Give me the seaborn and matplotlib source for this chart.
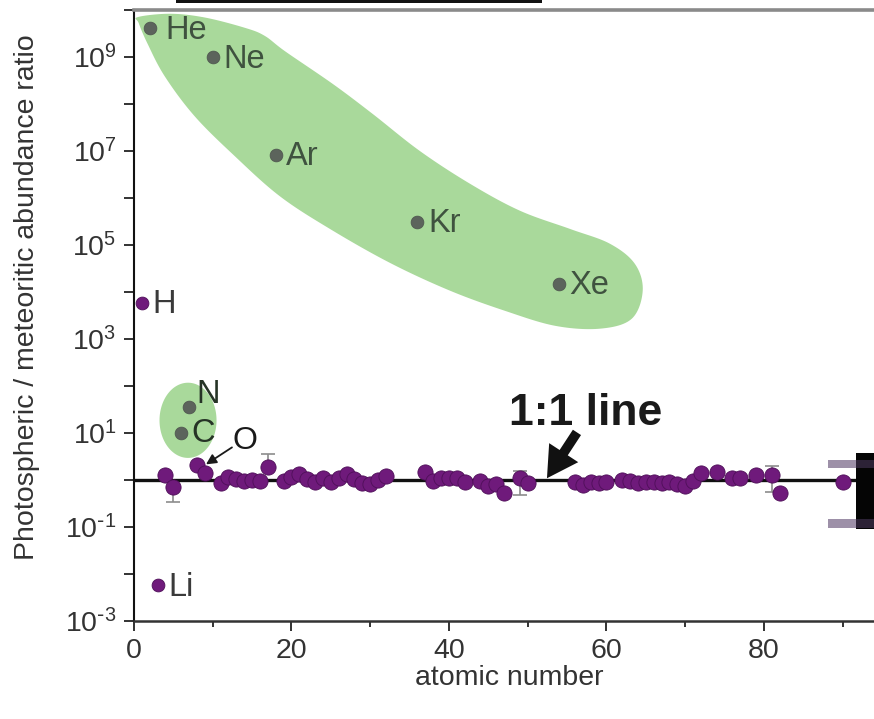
import numpy as np
import pandas as pd
import matplotlib
matplotlib.use("Agg")
import matplotlib.pyplot as plt
import seaborn as sns
from matplotlib.ticker import FixedLocator, FuncFormatter, MultipleLocator
from matplotlib.patches import Rectangle

# Elements that follow the 1:1 line: atomic number and photospheric/meteoritic ratio
line_z = [4, 5, 8, 9, 11, 12, 13, 14, 15, 16, 17, 19, 20, 21, 22, 23, 24, 25, 26, 27,
          28, 29, 30, 31, 32, 37, 38, 39, 40, 41, 42, 44, 45, 46, 47, 49, 50,
          56, 57, 58, 59, 60, 62, 63, 64, 65, 66, 67, 68, 69, 70, 71, 72,
          74, 76, 77, 79, 81, 82, 90]
line_ratio = [1.26, 0.71, 2.09, 1.41, 0.87, 1.15, 1.07, 0.95, 1.00, 0.93, 1.90, 0.95, 1.17, 1.32, 1.07, 0.89, 1.10, 0.91, 1.10, 1.32,
              1.07, 0.85, 0.83, 0.98, 1.23, 1.48, 0.95, 1.10, 1.12, 1.12, 0.89, 0.95, 0.76, 0.83, 0.52, 1.10, 0.87,
              0.91, 0.79, 0.91, 0.85, 0.91, 1.00, 0.93, 0.87, 0.89, 0.89, 0.87, 0.89, 0.83, 0.76, 0.93, 1.38,
              1.48, 1.10, 1.10, 1.26, 1.26, 0.52, 0.91]

# Uncertainties (lower / upper) for a few elements
err_z = [5, 17, 49, 81]
err_low = [0.37, 0.0, 0.63, 0.71]
err_high = [0.0, 1.65, 0.48, 0.74]

# Strongly depleted / enriched light elements
light_z = [1, 3]
light_ratio = [5.9e3, 5.7e-3]
light_label = ["H", "Li"]

# Noble gases
noble_z = [2, 10, 18, 36, 54]
noble_ratio = [4.1e9, 1.0e9, 8.3e6, 3.1e5, 1.5e4]
noble_label = ["He", "Ne", "Ar", "Kr", "Xe"]

# Volatile C and N
cn_z = [6, 7]
cn_ratio = [10.2, 35.0]
cn_label = ["C", "N"]

# Outline of the shaded noble-gas region: (atomic number, log10 ratio)
blob_z = [0.5, 4.6, 9.0, 14.1, 16.6, 19.2, 25.3, 30.3, 36.3, 42.7, 49.0, 55.4, 60.4, 63.6,
          64.6, 63.2, 59.2, 53.5, 47.1, 40.1, 32.5, 24.9, 18.5, 12.8, 7.7, 3.9, 1.7, 0.6]
blob_log = [9.85, 9.92, 9.84, 9.62, 9.45, 9.12, 8.42, 7.79, 7.0, 6.30, 5.73, 5.34, 5.03, 4.60,
            4.03, 3.43, 3.22, 3.28, 3.60, 4.03, 4.62, 5.34, 6.04, 6.89, 7.74, 8.59, 9.29, 9.72]

PURPLE = "#6f1a7b"
PURPLE_EDGE = "#4e0f58"
GRAY_DOT = "#5c645c"
GREEN = "#a9d99b"

sns.set_theme(style="ticks")
plt.rcParams["font.family"] = ["Liberation Sans", "DejaVu Sans"]
plt.rcParams["mathtext.default"] = "regular"

W, H = 874, 719
fig = plt.figure(figsize=(W / 100, H / 100), dpi=100)
fig.patch.set_facecolor("white")


def px_box(x0, y0, x1, y1):
    """Figure-fraction rectangle from pixel corners (origin top-left)."""
    return (x0 / W, 1 - y1 / H), (x1 - x0) / W, (y1 - y0) / H


ax_left, ax_right, ax_top, ax_bottom = 134, 884, 10, 621
ax = fig.add_axes([ax_left / W, 1 - ax_bottom / H, (ax_right - ax_left) / W, (ax_bottom - ax_top) / H])
ax.set_facecolor("white")
ax.set_yscale("log")
ax.set_xlim(0, 95.24)
ax.set_ylim(1e-3, 1e10)


def closed_spline(xs, ys, n=16):
    pts = np.column_stack([xs, ys])
    m = len(pts)
    out = []
    t = np.linspace(0, 1, n, endpoint=False)[:, None]
    for i in range(m):
        p0, p1, p2, p3 = pts[(i - 1) % m], pts[i], pts[(i + 1) % m], pts[(i + 2) % m]
        seg = 0.5 * (2 * p1 + (-p0 + p2) * t + (2 * p0 - 5 * p1 + 4 * p2 - p3) * t ** 2
                     + (-p0 + 3 * p1 - 3 * p2 + p3) * t ** 3)
        out.append(seg)
    out = np.vstack(out)
    return out[:, 0], out[:, 1]


# shaded regions
bx, by = closed_spline(blob_z, blob_log)
ax.fill(bx, 10.0 ** by, color=GREEN, lw=0, zorder=1)
th = np.linspace(0, 2 * np.pi, 200)
ax.fill(6.86 + 3.62 * np.cos(th), 10.0 ** (1.27 + 0.80 * np.sin(th)), color=GREEN, lw=0, zorder=1)

# 1:1 reference line
ax.axhline(1.0, color="#111111", lw=2.4, zorder=2)

df_line = pd.DataFrame({"Z": line_z, "ratio": line_ratio})
df_err = df_line.set_index("Z").loc[err_z].reset_index()
ax.errorbar(df_err["Z"], df_err["ratio"], yerr=[err_low, err_high], fmt="none",
            ecolor="#8c8c8c", elinewidth=1.2, capsize=5, capthick=1.2, zorder=3)

sns.scatterplot(data=df_line, x="Z", y="ratio", s=120, color=PURPLE, edgecolor=PURPLE_EDGE,
                linewidth=0.6, zorder=4, ax=ax, legend=False)

df_light = pd.DataFrame({"Z": light_z, "ratio": light_ratio, "label": light_label})
sns.scatterplot(data=df_light, x="Z", y="ratio", s=85, color=PURPLE, edgecolor=PURPLE_EDGE,
                linewidth=0.6, zorder=4, ax=ax, legend=False)

df_noble = pd.DataFrame({"Z": noble_z, "ratio": noble_ratio, "label": noble_label})
df_cn = pd.DataFrame({"Z": cn_z, "ratio": cn_ratio, "label": cn_label})
sns.scatterplot(data=pd.concat([df_noble, df_cn]), x="Z", y="ratio", s=85, color=GRAY_DOT,
                edgecolor="#4c544c", linewidth=0.5, zorder=4, ax=ax, legend=False)

# element labels
label_offsets = {"N": (5, 9), "C": (7, -1), "He": (11, -1.5)}
for df, col in ((df_noble, "#3f523f"), (df_light, "#3a3a3a"), (df_cn, "#263426")):
    for _, r in df.iterrows():
        dx, dy = label_offsets.get(r["label"], (7.5, -1.5))
        ax.annotate(r["label"], (r["Z"], r["ratio"]), xytext=(dx, dy), textcoords="offset points",
                    ha="left", va="center", fontsize=23.5, color=col, zorder=5)

# oxygen pointer
ax.annotate("", xy=(9.14, 2.15), xytext=(12.44, 4.94),
            arrowprops=dict(arrowstyle="-|>,head_length=0.5,head_width=0.25", color="#1a1a1a",
                            lw=1.3, shrinkA=0, shrinkB=0), zorder=5)
ax.text(12.5, 6.9, "O", fontsize=23, color="#1a1a1a", ha="left", va="center", zorder=5)

# 1:1 line callout
ax.annotate("", xy=(52.44, 1.09), xytext=(56.25, 10.3),
            arrowprops=dict(arrowstyle="simple,head_length=1.1,head_width=1.25,tail_width=0.35",
                            color="#111111", lw=0, shrinkA=0, shrinkB=0, mutation_scale=20), zorder=5)
ax.text(57.3, 26.0, "1:1 line", fontsize=32, fontweight="bold", color="#1a1a1a",
        ha="center", va="center", zorder=5)


def decade_label(v, pos):
    e = int(round(np.log10(v)))
    if e % 2 == 0:
        return ""
    exp = str(e) if e > 0 else r"\text{-}%d" % (-e)
    return r"$\mathdefault{10^{%s}}$" % exp


# axes styling
ax.yaxis.set_major_locator(FixedLocator([10.0 ** e for e in range(-3, 11)]))
ax.yaxis.set_minor_locator(FixedLocator([]))
ax.yaxis.set_major_formatter(FuncFormatter(decade_label))
ax.xaxis.set_major_locator(MultipleLocator(20))
ax.xaxis.set_minor_locator(MultipleLocator(10))

ax.tick_params(axis="both", which="major", direction="out", length=7.5, width=1.3,
               color="#222222", labelsize=20.5, labelcolor="#333333", pad=5)
ax.tick_params(axis="x", which="minor", direction="out", length=4.5, width=1.3, color="#222222")
ax.tick_params(axis="y", which="minor", length=0)

ax.spines["left"].set_color("#111111")
ax.spines["left"].set_linewidth(1.5)
ax.spines["bottom"].set_color("#333333")
ax.spines["bottom"].set_linewidth(1.8)
ax.spines["top"].set_color("#8a8a8a")
ax.spines["top"].set_linewidth(2.6)
ax.spines["right"].set_visible(False)

ax.set_xlabel("atomic number", fontsize=20.5, color="#333333")
ax.set_ylabel("Photospheric / meteoritic abundance ratio", fontsize=20.5, color="#333333")
ax.xaxis.set_label_coords(0.5, -0.093)
ax.xaxis.label.set_va("center")
ax.yaxis.set_label_coords((27 - ax_left) / (ax_right - ax_left), (ax_bottom - 297) / (ax_bottom - ax_top))
ax.yaxis.label.set_va("center")

# neighbouring panel edges
for (x0, y0, x1, y1), c in (((176, 0, 542, 3), "#111111"),
                            ((828, 460, 874, 468), "#9d90a8"),
                            ((828, 519, 874, 528), "#9d90a8"),
                            ((856, 453, 874, 529), "#050505"),
                            ((856, 460, 874, 468), "#2c2236"),
                            ((856, 519, 874, 528), "#2c2236")):
    xy, w, h = px_box(x0, y0, x1, y1)
    fig.add_artist(Rectangle(xy, w, h, transform=fig.transFigure, color=c, lw=0, zorder=10))

fig.savefig("out.png", dpi=100, facecolor="white")
